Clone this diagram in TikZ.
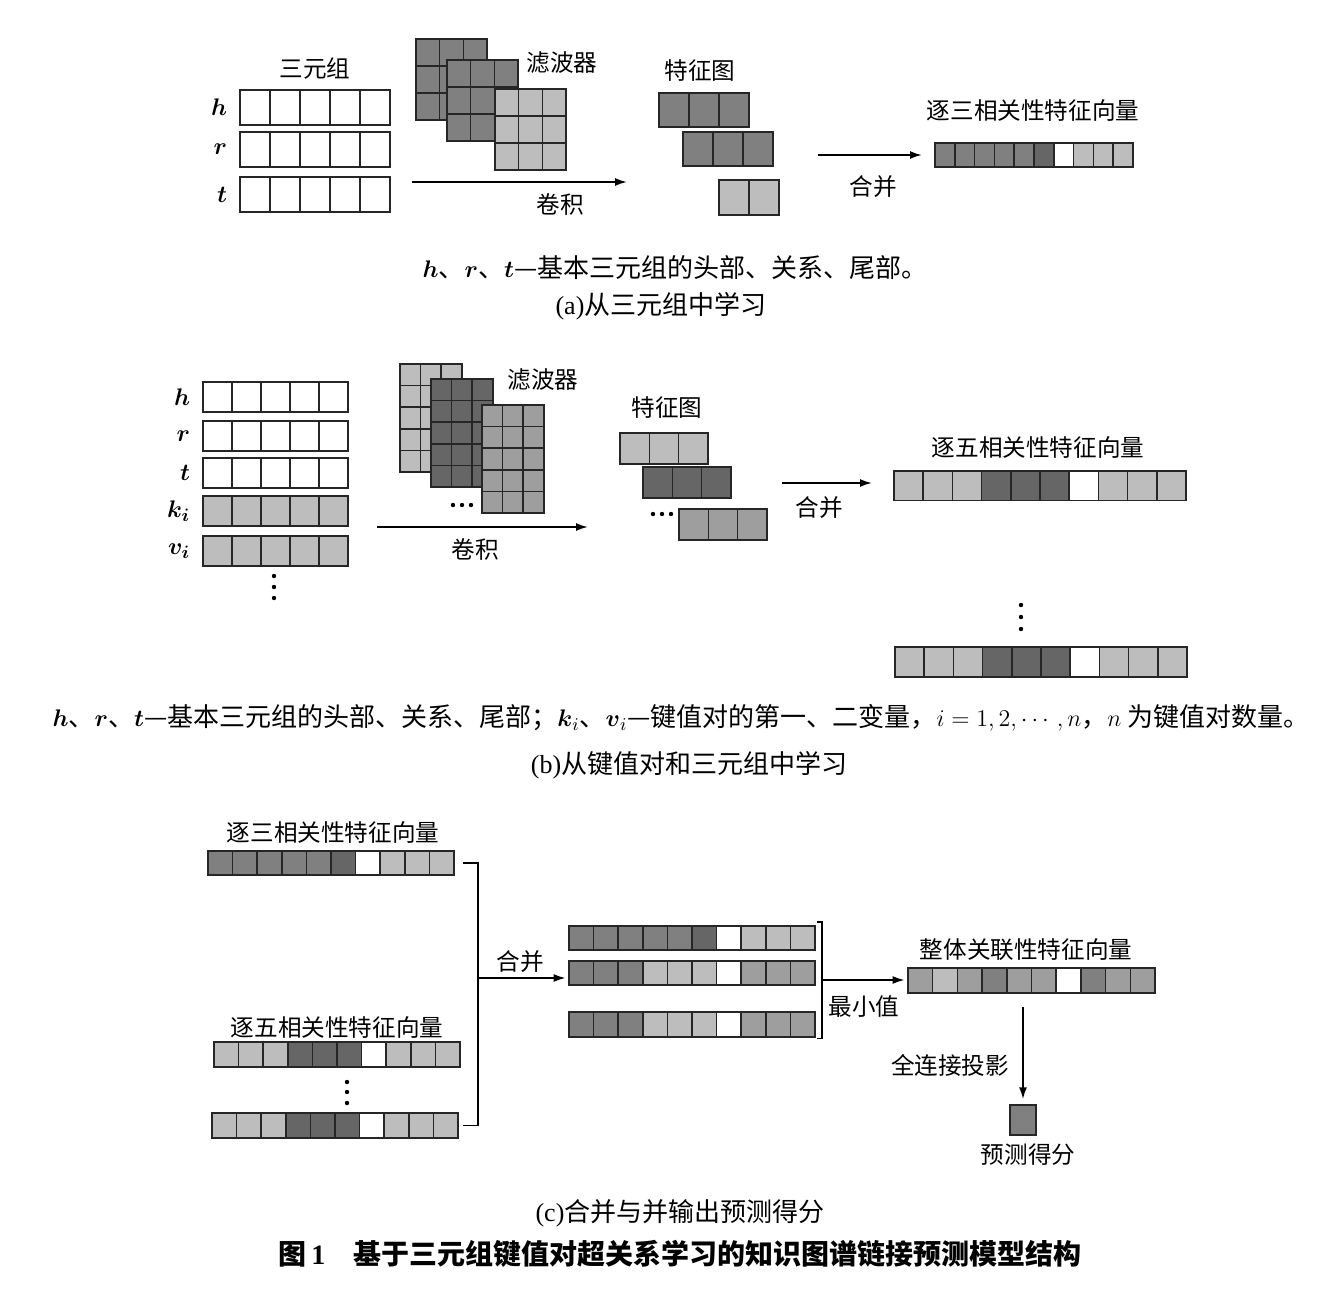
\documentclass[tikz,border=0pt]{standalone}
\usepackage{amsmath}
\usepackage[no-math]{fontspec}
\setmainfont{Noto Sans CJK SC}
\newfontfamily\latinrm{Liberation Serif}
\usepackage{tikz}
\usetikzlibrary{arrows.meta,calc,positioning,fit}

\colorlet{dk}{black!50}
\colorlet{dkk}{black!60}
\colorlet{md}{black!38}
\colorlet{lt}{black!26}

% one row of cells: name, top-left x, y, cell width, cell height, fill list
\newcommand{\cellrow}[6]{%
  \coordinate (#1-nw) at (#2,#3);
  \foreach \cfill [count=\k from 0] in {#6}
    \draw[cell, fill=\cfill] ({#2+\k*#4},#3) rectangle ++(#4,#5) coordinate (#1-se);
  \node[fit=(#1-nw)(#1-se), inner sep=0pt] (#1) {};
}
% filter grid: name, x, y, cell w, cell h, cols, rows, fill
\newcommand{\filtergrid}[8]{%
  \foreach \gc in {1,...,#6}
    \foreach \gr in {1,...,#7}
      \draw[cell, fill=#8] ({#2+(\gc-1)*#4},{#3+(\gr-1)*#5}) rectangle ++(#4,#5);
  \node[fit={(#2,#3) ({#2+#6*#4},{#3+#7*#5})}, inner sep=0pt] (#1) {};
}

\tikzset{
  cell/.style={draw=black!85, line width=0.75pt},
  flow/.style={-{Latex[length=6pt,width=4pt]}, line width=0.9pt},
  brace/.style={line width=0.9pt},
  var/.style={font=\fontsize{13}{14}\selectfont, inner sep=1pt},
  capline/.style={font=\fontsize{13}{16}\selectfont},
  figtitle/.style={font=\fontsize{14}{16}\selectfont\bfseries}
}

\begin{document}
\begin{tikzpicture}[x=0.5pt, y=-0.5pt, font=\fontsize{11.8}{14}\selectfont]
  \useasboundingbox (0,0) rectangle (1318,1296);

  % (a) learning from triples
  \node (triA) at (315,68) {三元组};
  \foreach \nm/\yy in {h/90,r/132,t/177} {
    \cellrow{\nm A}{240}{\yy}{30}{35}{white,white,white,white,white}
    \node[var, left=5pt of \nm A] (\nm A-lbl) {$\boldsymbol{\nm}$};
  }
  \filtergrid{filA1}{416}{39}{23.7}{27}{3}{3}{dk}
  \filtergrid{filA2}{447}{60}{23.7}{27}{3}{3}{dk}
  \filtergrid{filA3}{495}{89}{23.7}{27}{3}{3}{lt}
  \node (filA) at (562,63) {滤波器};
  \coordinate (convA-s) at (412,182);
  \coordinate (convA-e) at (627,182);
  \draw[flow] (convA-s) -- (convA-e);
  \node (convA) at (560,205) {卷积};

  \node (mapA) at (700,71) {特征图};
  \cellrow{mapA1}{659}{93}{30}{34}{dk,dk,dk}
  \cellrow{mapA2}{683}{132}{30}{34}{dk,dk,dk}
  \cellrow{mapA3}{719}{180}{30}{35}{lt,lt}
  \coordinate (mergeA-s) at (818,155);
  \coordinate (mergeA-e) at (922,155);
  \draw[flow] (mergeA-s) -- (mergeA-e);
  \node (mergeA) at (873,187) {合并};
  \node (triVecA-lbl) at (1033,111) {逐三相关性特征向量};
  \cellrow{triVecA}{935}{143}{19.8}{24}{dk,dk,dk,dk,dk,dkk,white,lt,lt,lt}

  \node[capline] (capA1) at (675,268) {$\boldsymbol{h}$、$\boldsymbol{r}$、$\boldsymbol{t}$—基本三元组的头部、关系、尾部。};
  \node[capline] (capA2) at (661,306) {{\latinrm (a)}从三元组中学习};

  % (b) learning from key-value pairs and triples
  \foreach \nm/\yy/\tx/\rowc in {h/382/h/white, r/421/r/white, t/458/t/white, k/496/k_i/lt, v/536/v_i/lt} {
    \cellrow{\nm B}{203}{\yy}{29}{30}{\rowc,\rowc,\rowc,\rowc,\rowc}
    \node[var, left=5pt of \nm B] (\nm B-lbl) {$\boldsymbol{\tx}$};
  }
  \foreach \dy in {0,11,22} \fill (274,576+\dy) circle (1.1pt);
  \filtergrid{filB1}{400}{364}{20.6}{21.6}{3}{5}{lt}
  \filtergrid{filB2}{431}{379}{20.6}{21.6}{3}{5}{dkk}
  \filtergrid{filB3}{482}{405}{20.6}{21.6}{3}{5}{md}
  \node (filB) at (543,380) {滤波器};
  \foreach \dx in {0,9,18} \fill (453+\dx,505) circle (1.1pt);
  \coordinate (convB-s) at (377,527);
  \coordinate (convB-e) at (588,527);
  \draw[flow] (convB-s) -- (convB-e);
  \node (convB) at (475,550) {卷积};

  \node (mapB) at (667,408) {特征图};
  \cellrow{mapB1}{620}{433}{29.3}{31}{lt,lt,lt}
  \cellrow{mapB2}{643}{467}{29.3}{31}{dkk,dkk,dkk}
  \cellrow{mapB3}{679}{509}{29.3}{31}{md,md,md}
  \foreach \dx in {0,9,18} \fill (653+\dx,514) circle (1.1pt);
  \coordinate (mergeB-s) at (782,483);
  \coordinate (mergeB-e) at (872,483);
  \draw[flow] (mergeB-s) -- (mergeB-e);
  \node (mergeB) at (819,508) {合并};
  \node (pentB-lbl) at (1038,448) {逐五相关性特征向量};
  \cellrow{pentB1}{894}{471}{29.2}{29.5}{lt,lt,lt,dkk,dkk,dkk,white,lt,lt,lt}
  \foreach \dy in {0,12,24} \fill (1021,605+\dy) circle (1.1pt);
  \cellrow{pentB2}{895}{647}{29.2}{30}{lt,lt,lt,dkk,dkk,dkk,white,lt,lt,lt}

  \node[capline] (capB1) at (681,718) {$\boldsymbol{h}$、$\boldsymbol{r}$、$\boldsymbol{t}$—基本三元组的头部、关系、尾部；$\boldsymbol{k}_i$、$\boldsymbol{v}_i$—键值对的第一、二变量，$i=1,2,\cdots,n$，$n$ 为键值对数量。};
  \node[capline] (capB2) at (689,765) {{\latinrm (b)}从键值对和三元组中学习};

  % (c) merge and output the score
  \node (triC-lbl) at (333,832) {逐三相关性特征向量};
  \cellrow{triC}{208}{851}{24.6}{24}{dk,dk,dk,dk,dk,dkk,white,lt,lt,lt}
  \node (pentC-lbl) at (337,1027) {逐五相关性特征向量};
  \cellrow{pentC1}{214}{1042}{24.6}{25}{lt,lt,lt,dkk,dkk,dkk,white,lt,lt,lt}
  \foreach \dy in {0,10,21} \fill (347,1082+\dy) circle (1.1pt);
  \cellrow{pentC2}{212}{1113}{24.6}{25}{lt,lt,lt,dkk,dkk,dkk,white,lt,lt,lt}

  \cellrow{minC1}{569}{926}{24.6}{24}{dk,dk,dk,dk,dk,dkk,white,lt,lt,lt}
  \cellrow{minC2}{569}{961}{24.6}{24}{dk,dk,dk,lt,lt,lt,white,md,md,md}
  \cellrow{minC3}{569}{1012}{24.6}{25}{dk,dk,dk,lt,lt,lt,white,md,md,md}
  \coordinate (joinC) at (478,978);
  \draw[brace] ($(triC.east)+(9,0)$) -| (joinC) |- ($(pentC2.east)+(5,0)$);
  \draw[flow] (joinC) -- ($(minC2.west |- joinC)+(-3,0)$);
  \node (mergeC) at (520,962) {合并};

  \node (allC-lbl) at (1026,950) {整体关联性特征向量};
  \cellrow{allC}{908}{968}{24.7}{25}{md,lt,md,dk,md,md,white,dk,md,md}
  \coordinate (joinM) at (822,980);
  \draw[brace] ($(minC1.north east)+(2,-4)$) -| (joinM) |- ($(minC3.south east)+(2,1)$);
  \draw[flow] (joinM) -- ($(allC.west |- joinM)+(-3,0)$);
  \node (minC) at (864,1007) {最小值};

  \node[cell, fill=dk, minimum width=13pt, minimum height=15pt, inner sep=0pt] (score) at (1023,1120) {};
  \draw[flow, shorten <=7pt, shorten >=2.5pt] (score.north |- allC.south) -- (score.north);
  \node (fcC) at (950,1065) {全连接投影};
  \node (score-lbl) at (1028,1155) {预测得分};

  \node[capline] (capC) at (680,1213) {{\latinrm (c)}合并与并输出预测得分};
  \node[figtitle] (figT) at (680,1254) {图\,{\latinrm 1}\quad 基于三元组键值对超关系学习的知识图谱链接预测模型结构};
\end{tikzpicture}
\end{document}
